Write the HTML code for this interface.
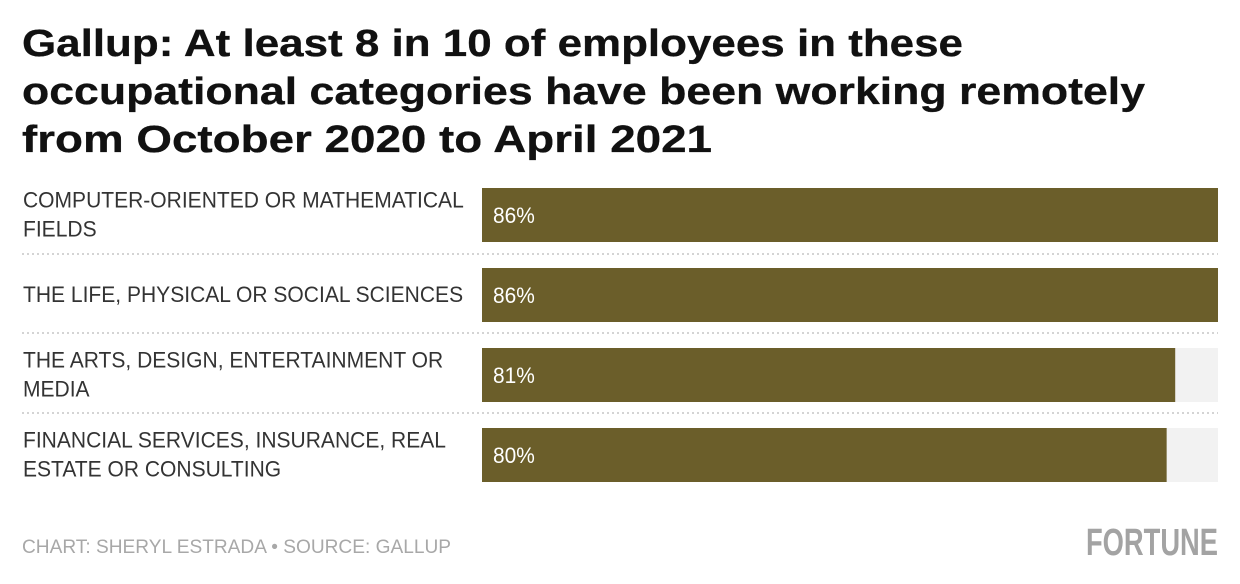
<!DOCTYPE html>
<html><head><meta charset="utf-8"><style>
html,body{margin:0;padding:0;background:#fff;width:1240px;height:584px;overflow:hidden}
svg{display:block;font-family:"Liberation Sans",sans-serif}
</style></head><body>
<svg width="1240" height="584">
<g font-weight="bold" font-size="38" fill="#111" stroke="#111" stroke-width="0.3">
<text x="22" y="56" textLength="941" lengthAdjust="spacingAndGlyphs">Gallup: At least 8 in 10 of employees in these</text>
<text x="22" y="104" textLength="1123" lengthAdjust="spacingAndGlyphs">occupational categories have been working remotely</text>
<text x="22" y="152" textLength="690" lengthAdjust="spacingAndGlyphs">from October 2020 to April 2021</text>
</g>
<g id="bars"></g>
<text x="22" y="553" font-size="19.5" fill="#a8a8a8" textLength="429" lengthAdjust="spacingAndGlyphs">CHART: SHERYL ESTRADA • SOURCE: GALLUP</text>
<text x="1218" y="555" text-anchor="end" font-size="38" font-weight="bold" fill="#a3a3a3" textLength="132" lengthAdjust="spacingAndGlyphs">FORTUNE</text>
</svg>
<script>
const categories=[["COMPUTER-ORIENTED OR MATHEMATICAL","FIELDS"],["THE LIFE, PHYSICAL OR SOCIAL SCIENCES"],["THE ARTS, DESIGN, ENTERTAINMENT OR","MEDIA"],["FINANCIAL SERVICES, INSURANCE, REAL","ESTATE OR CONSULTING"]];
const values=[86,86,81,80];
const valueLabels=["86%","86%","81%","80%"];
const maxValue=86;
const NS="http://www.w3.org/2000/svg";
const g=document.getElementById('bars');
const x0=482,x1=1218,top0=188,step=80,bh=54;
const xs=v=>x0+(x1-x0)*v/maxValue;
function mk(t,a){const e=document.createElementNS(NS,t);for(const k in a)e.setAttribute(k,a[k]);return e;}
values.forEach((v,i)=>{
  const y=top0+i*step;
  const track=mk('rect',{x:x0,y:y,width:x1-x0,height:bh,fill:'#f2f2f2'});
  
  
  g.appendChild(track);
  const bar=mk('rect',{x:x0,y:y,width:xs(v)-x0,height:bh,fill:'#6b5e2a'});
  
  
  g.appendChild(bar);
  const vt=mk('text',{x:x0+11,y:y+bh/2+8,'font-size':22,fill:'#fff',transform:`translate(${(x0+11)*0.05} 0) scale(0.95 1)`});
  vt.textContent=valueLabels[i];
  
  
  g.appendChild(vt);
  const lines=categories[i];
  const cy=y+bh/2;
  lines.forEach((l,j)=>{
    const ly=cy+7+(j-(lines.length-1)/2)*29;
    const t=mk('text',{x:23,y:ly,'font-size':22,fill:'#333',transform:`translate(${23*0.044} 0) scale(0.956 1)`});
    t.textContent=l;
    
    
    g.appendChild(t);
  });
  if(i<values.length-1){
    const sy=y+bh+(step-bh)/2+(i==0?-1:-2);
    const ln=mk('line',{x1:22,x2:1218,y1:sy,y2:sy,stroke:'#d4d4d4','stroke-width':2,'stroke-dasharray':'2 3'});
    
    
    g.appendChild(ln);
  }
});
</script>
</body></html>
